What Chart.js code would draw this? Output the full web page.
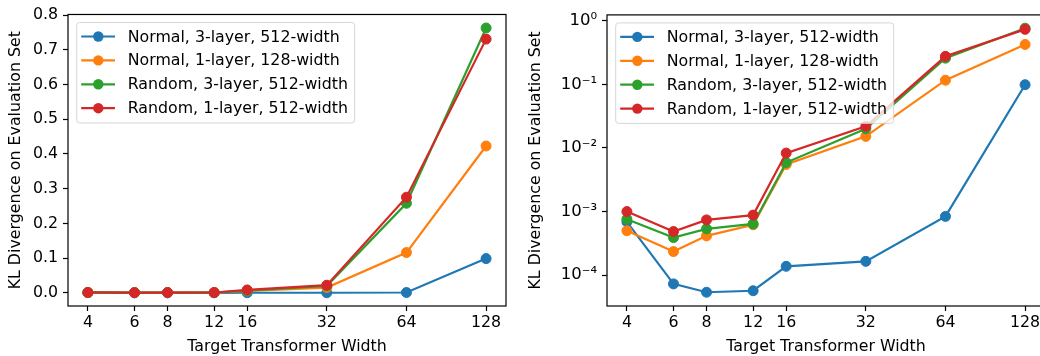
<!DOCTYPE html>
<html><head><meta charset="utf-8">
<script src="https://cdn.jsdelivr.net/npm/chart.js@4"></script>
<style>
html,body{margin:0;padding:0;width:1040px;height:356px;overflow:hidden;background:#fff;}
#c1{position:absolute;left:0;top:0;}
#c2{position:absolute;left:520px;top:0;}
</style></head><body>
<canvas id="c1" width="520" height="356"></canvas>
<canvas id="c2" width="540" height="356"></canvas>
<script>
// ---- data ----
const widths = [4, 6, 8, 12, 16, 32, 64, 128];
const seriesLabels = ['Normal, 3-layer, 512-width', 'Normal, 1-layer, 128-width', 'Random, 3-layer, 512-width', 'Random, 1-layer, 512-width'];
const normal3 = [6.9e-4, 7.3e-5, 5.4e-5, 5.7e-5, 1.38e-4, 1.65e-4, 8.4e-4, 0.0986];
const normal1 = [5.0e-4, 2.35e-4, 4.15e-4, 6.2e-4, 5.5e-3, 0.0152, 0.116, 0.423];
const random3 = [7.6e-4, 3.9e-4, 5.35e-4, 6.4e-4, 5.9e-3, 0.020, 0.258, 0.763];
const random1 = [1.0e-3, 4.85e-4, 7.4e-4, 8.8e-4, 8.3e-3, 0.0219, 0.2755, 0.731];
const xTicks = [4, 6, 8, 12, 16, 32, 64, 128];
const linTicks = [0, 0.1, 0.2, 0.3, 0.4, 0.5, 0.6, 0.7, 0.8];
const logTicks = [1e-4, 1e-3, 1e-2, 1e-1, 1];
const logTickLabels = ['10\u207B\u2074', '10\u207B\u00B3', '10\u207B\u00B2', '10\u207B\u00B9', '10\u2070'];
const colors = ['#1f77b4', '#ff7f0e', '#2ca02c', '#d62728'];
const xTitle = 'Target Transformer Width';
const yTitle = 'KL Divergence on Evaluation Set';

// ---- style ----
const FAM = "'DejaVu Sans', sans-serif";
const FS = 15.8;
const font = {family: FAM, size: FS};

function makeDatasets() {
  return [normal3, normal1, random3, random1].map((vals, i) => ({
    label: seriesLabels[i],
    data: widths.map((w, j) => ({x: w, y: vals[j]})),
    borderColor: colors[i],
    backgroundColor: colors[i],
    pointBackgroundColor: colors[i],
    pointBorderColor: colors[i],
    pointRadius: 5,
    pointBorderWidth: 1,
    borderWidth: 2.2,
    tension: 0,
    order: 4 - i
  }));
}

const mplPlugin = {
  id: 'mpl',
  afterDatasetsDraw(chart) {
    const {ctx, chartArea: a} = chart;
    ctx.save();
    ctx.strokeStyle = '#000';
    ctx.lineWidth = 1.2;
    ctx.strokeRect(a.left, a.top, a.right - a.left, a.bottom - a.top);
    ctx.font = FS + 'px ' + FAM;
    const ds = chart.data.datasets;
    const tw = Math.max(...ds.map(d => ctx.measureText(d.label).width));
    const x0 = a.left + 8.7, y0 = a.top + 8;
    const w = 51 + tw + 6.7, h = 100.5, r = 3;
    ctx.beginPath();
    ctx.moveTo(x0 + r, y0);
    ctx.arcTo(x0 + w, y0, x0 + w, y0 + h, r);
    ctx.arcTo(x0 + w, y0 + h, x0, y0 + h, r);
    ctx.arcTo(x0, y0 + h, x0, y0, r);
    ctx.arcTo(x0, y0, x0 + w, y0, r);
    ctx.closePath();
    ctx.fillStyle = 'rgba(255,255,255,0.8)';
    ctx.fill();
    ctx.strokeStyle = 'rgba(204,204,204,0.8)';
    ctx.lineWidth = 1;
    ctx.stroke();
    ds.forEach((d, i) => {
      const y = a.top + 22 + i * 23.9;
      ctx.strokeStyle = d.borderColor;
      ctx.lineWidth = 2.2;
      ctx.beginPath();
      ctx.moveTo(a.left + 13.2, y);
      ctx.lineTo(a.left + 47, y);
      ctx.stroke();
      ctx.fillStyle = d.borderColor;
      ctx.beginPath();
      ctx.arc(a.left + 30.3, y, 5.2, 0, Math.PI * 2);
      ctx.fill();
      ctx.fillStyle = '#000';
      ctx.textBaseline = 'middle';
      ctx.textAlign = 'left';
      ctx.fillText(d.label, a.left + 59.7, y + 1);
    });
    ctx.restore();
  }
};

function xScale() {
  return {
    type: 'logarithmic',
    position: 'bottom',
    min: Math.pow(2, 1.75),
    max: Math.pow(2, 7.25),
    afterBuildTicks: s => { s.ticks = xTicks.map(v => ({value: v})); },
    afterFit: s => { s.height = 50; },
    ticks: {callback: v => String(v), autoSkip: false, maxRotation: 0, minRotation: 0, font, color: '#000', padding: 2},
    grid: {drawOnChartArea: false, drawTicks: true, tickLength: 5, tickWidth: 1.2, tickColor: '#000'},
    border: {display: false},
    title: {display: true, text: xTitle, font, color: '#000', padding: {top: 0, bottom: 0}}
  };
}

function yTitleCfg() {
  return {display: true, text: yTitle, font, color: '#000', padding: {top: 6, bottom: 0}};
}

new Chart(document.getElementById('c1'), {
  type: 'line',
  data: {datasets: makeDatasets()},
  options: {
    responsive: false, animation: false, devicePixelRatio: 1,
    layout: {padding: {top: 12, right: 14, left: 0, bottom: 0}},
    plugins: {legend: {display: false}, tooltip: {enabled: false}},
    scales: {
      x: xScale(),
      y: {
        type: 'linear', min: -0.038, max: 0.802,
        afterBuildTicks: s => { s.ticks = linTicks.map(v => ({value: v})); },
        afterFit: s => { s.width = 68; },
        ticks: {callback: v => v.toFixed(1), font, color: '#000', padding: 5},
        grid: {drawOnChartArea: false, drawTicks: true, tickLength: 5, tickWidth: 1.2, tickColor: '#000'},
        border: {display: false},
        title: yTitleCfg()
      }
    }
  },
  plugins: [mplPlugin]
});

new Chart(document.getElementById('c2'), {
  type: 'line',
  data: {datasets: makeDatasets()},
  options: {
    responsive: false, animation: false, devicePixelRatio: 1,
    layout: {padding: {top: 12, right: 15, left: 0, bottom: 0}},
    plugins: {legend: {display: false}, tooltip: {enabled: false}},
    scales: {
      x: xScale(),
      y: {
        type: 'logarithmic', min: Math.pow(10, -4.484), max: Math.pow(10, 0.091),
        afterBuildTicks: s => { s.ticks = logTicks.map(v => ({value: v})); },
        afterFit: s => { s.width = 87; },
        ticks: {callback: (v, i) => logTickLabels[i], font: {family: FAM, size: 16.5}, color: '#000', padding: 5},
        grid: {drawOnChartArea: false, drawTicks: true, tickLength: 5, tickWidth: 1.2, tickColor: '#000'},
        border: {display: false},
        title: yTitleCfg()
      }
    }
  },
  plugins: [mplPlugin]
});
</script>
</body></html>
